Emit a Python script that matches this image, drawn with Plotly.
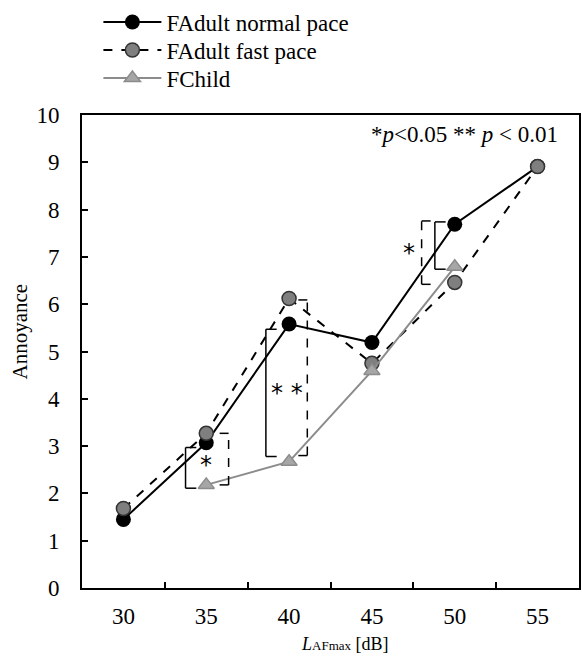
import plotly.graph_objects as go

categories = ["30", "35", "40", "45", "50", "55"]
normal_pace = [1.45, 3.07, 5.58, 5.19, 7.69, 8.91]
fast_pace = [1.68, 3.27, 6.12, 4.75, 6.46, 8.91]
child = [None, 2.18, 2.67, 4.59, 6.79, None]

# significance brackets: (category index, top, bottom, x offset in category units, arm direction, dash)
brackets = [
    (1, 2.97, 2.11, -0.25, 1, "solid"),
    (1, 3.27, 2.18, 0.27, -1, "dash"),
    (2, 5.47, 2.78, -0.28, 1, "solid"),
    (2, 6.09, 2.80, 0.22, -1, "dash"),
    (4, 7.76, 6.42, -0.40, 1, "dash"),
    (4, 7.74, 6.74, -0.24, 1, "solid"),
]
star_labels = [(1, 0.0, 2.6, "*"), (2, -0.03, 4.12, "* *"), (4, -0.55, 7.08, "*")]

font = "Liberation Serif"
fs = 23
fig = go.Figure()
fig.add_trace(go.Scatter(x=list(range(6)), y=normal_pace, name="FAdult normal pace",
                         mode="lines+markers", legend="legend",
                         line=dict(color="black", width=2),
                         marker=dict(symbol="circle", size=15, color="black")))
fig.add_trace(go.Scatter(x=list(range(6)), y=fast_pace, name="FAdult fast pace",
                         mode="lines+markers", legend="legend2",
                         line=dict(color="black", width=2, dash="dash"),
                         marker=dict(symbol="circle", size=14, color="#7f7f7f",
                                     line=dict(color="#333333", width=1.5))))
fig.add_trace(go.Scatter(x=list(range(6)), y=child, name="FChild",
                         mode="lines+markers", legend="legend3",
                         line=dict(color="#8c8c8c", width=2),
                         marker=dict(symbol="triangle-up", size=14, color="#a6a6a6",
                                     line=dict(color="#8c8c8c", width=1.5))))

arm = 0.13
for ci, top, bot, off, direction, dash in brackets:
    x0 = ci + off
    x1 = x0 + direction * arm
    line = dict(color="black", width=1.5, dash=dash)
    fig.add_shape(type="line", x0=x0, x1=x0, y0=bot, y1=top, line=line)
    fig.add_shape(type="line", x0=x0, x1=x1, y0=top, y1=top, line=line)
    fig.add_shape(type="line", x0=x0, x1=x1, y0=bot, y1=bot, line=line)

for ci, xoff, yv, txt in star_labels:
    fig.add_annotation(x=ci + xoff, y=yv, text=txt, showarrow=False,
                       font=dict(family="DejaVu Sans", size=24, color="black"))

fig.add_annotation(xref="paper", yref="paper", x=0.962, y=0.958, xanchor="right",
                   yanchor="middle", showarrow=False,
                   text="*<i>p</i>&lt;0.05 ** <i>p</i> &lt; 0.01",
                   font=dict(family=font, size=fs, color="black"))

# axis titles
fig.add_annotation(xref="paper", yref="paper", x=0.529, y=-0.118, xanchor="center",
                   yanchor="middle", showarrow=False,
                   text="<i>L</i><span style='font-size:13px'>AFmax</span> [dB]",
                   font=dict(family=font, size=18, color="black"))
fig.add_annotation(xref="paper", yref="paper", x=-0.124, y=0.543, xanchor="center",
                   yanchor="middle", showarrow=False, textangle=-90,
                   text="Annoyance",
                   font=dict(family=font, size=21, color="black"))

legend_common = dict(x=0.033, xanchor="left", yanchor="middle",
                     font=dict(family=font, size=fs), bgcolor="rgba(0,0,0,0)",
                     itemwidth=58)
fig.update_layout(
    width=582, height=670,
    margin=dict(l=82, r=1, t=115, b=82),
    paper_bgcolor="white", plot_bgcolor="white",
    font=dict(family=font, size=fs, color="black"),
    showlegend=True,
    legend=dict(y=1.1966, **legend_common),
    legend2=dict(y=1.1374, **legend_common),
    legend3=dict(y=1.0782, **legend_common),
    xaxis=dict(range=[-0.5, 5.5], tickmode="array", tickvals=list(range(6)),
               ticktext=categories, showgrid=False, zeroline=False,
               showline=True, linecolor="black", linewidth=2, mirror=True,
               ticks="", tickfont=dict(size=fs), ticklabelstandoff=6),
    yaxis=dict(range=[0, 10], dtick=1, showgrid=False, zeroline=False,
               showline=True, linecolor="black", linewidth=2, mirror=True,
               ticks="inside", ticklen=6, tickwidth=1.5, tickcolor="black",
               tickfont=dict(size=fs), ticklabelstandoff=16),
)

# x tick marks at category boundaries via an overlaying axis without labels
fig.update_layout(xaxis2=dict(overlaying="x", matches="x", range=[-0.5, 5.5],
                              tickmode="array", tickvals=[0.5, 1.5, 2.5, 3.5, 4.5],
                              showticklabels=False, ticks="inside", ticklen=6,
                              tickwidth=1.5, tickcolor="black", side="bottom",
                              showgrid=False, zeroline=False, showline=False))
fig.add_trace(go.Scatter(x=[None], y=[None], xaxis="x2", showlegend=False, hoverinfo="skip"))

fig.write_html("out.html")
